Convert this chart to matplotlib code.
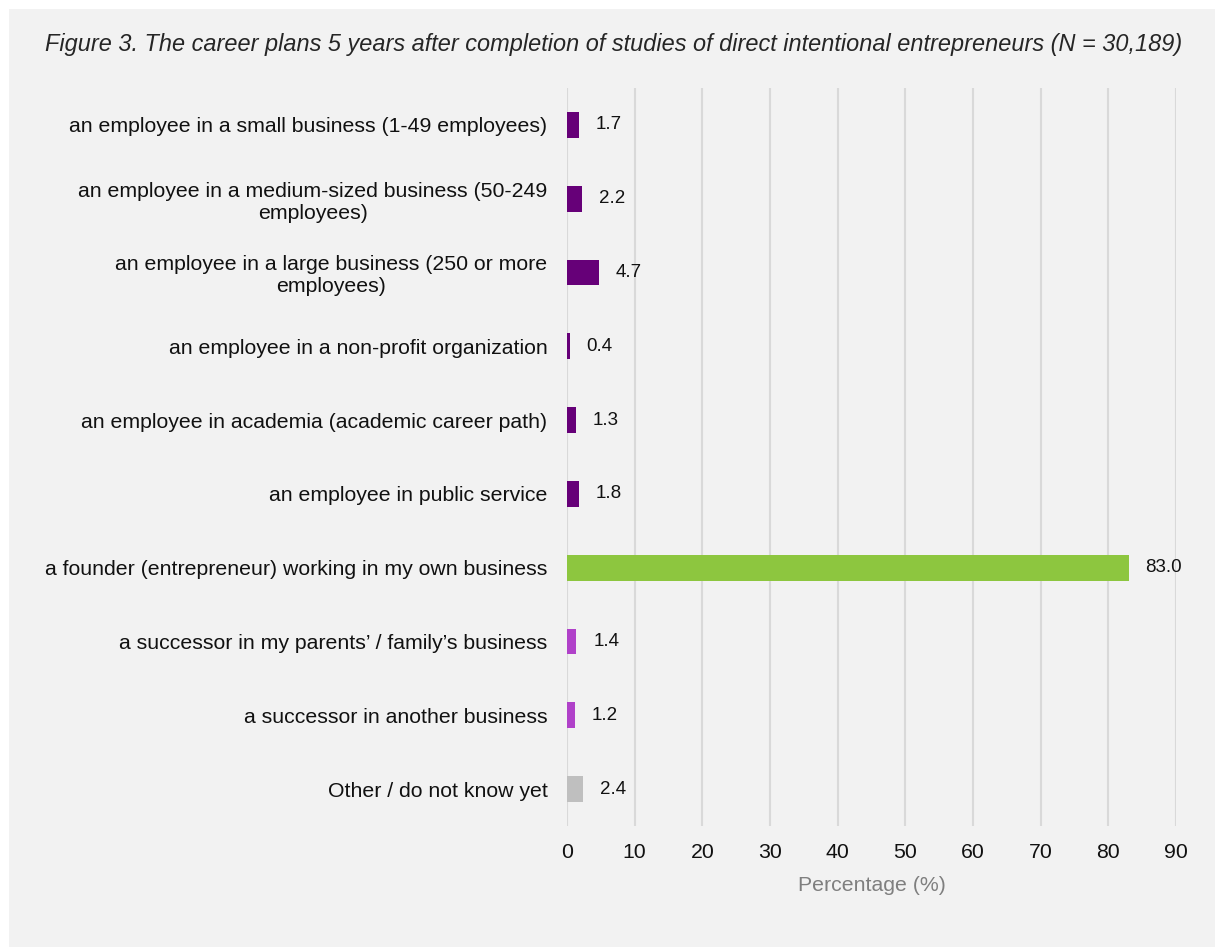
import numpy as np
import matplotlib.pyplot as plt
from matplotlib.patches import Rectangle

plt.rcParams['font.family'] = ['Liberation Sans', 'DejaVu Sans']

categories = [
    'an employee in a small business (1-49 employees)',
    'an employee in a medium-sized business (50-249\nemployees)',
    'an employee in a large business (250 or more\nemployees)',
    'an employee in a non-profit organization',
    'an employee in academia (academic career path)',
    'an employee in public service',
    'a founder (entrepreneur) working in my own business',
    'a successor in my parents\u2019 / family\u2019s business',
    'a successor in another business',
    'Other / do not know yet',
]
values = [1.7, 2.2, 4.7, 0.4, 1.3, 1.8, 83.0, 1.4, 1.2, 2.4]
groups = ['employee'] * 6 + ['founder'] + ['successor'] * 2 + ['other']
group_colors = {
    'employee': '#660078',
    'founder': '#8dc63f',
    'successor': '#b041c9',
    'other': '#bfbfbf',
}
xticks = np.arange(0, 100, 10)

bg = '#f2f2f2'
fig = plt.figure(figsize=(12.15, 9.47), dpi=100)
fig.patch.set_facecolor('white')
# light grey panel behind everything, leaving a thin white strip top and left
fig.patches.append(Rectangle((9 / 1215, 0), 1 - 9 / 1215, 1 - 9 / 947,
                             transform=fig.transFigure, facecolor=bg,
                             edgecolor='none', zorder=-10))

ax = fig.add_axes([567 / 1215, 1 - 826 / 947, (1176 - 567) / 1215, (826 - 88) / 947])
ax.set_facecolor(bg)

y = np.arange(len(categories))
colors = [group_colors[g] for g in groups]
ax.barh(y, values, height=0.35, color=colors, zorder=3)

for yi, v in zip(y, values):
    ax.annotate(f'{v:.1f}', xy=(v, yi), xytext=(12, 0), textcoords='offset points',
                ha='left', va='center', fontsize=13.5, color='#111111')

ax.set_xlim(0, 90)
ax.set_ylim(len(categories) - 0.5, -0.5)
ax.set_yticks(y)
ax.set_yticklabels(categories, fontsize=15.3, color='#111111',
                   multialignment='center', linespacing=1.2)
ax.set_xticks(xticks)
ax.set_xticklabels([str(t) for t in xticks], fontsize=15.3, color='#111111')
ax.tick_params(axis='both', length=0)
ax.tick_params(axis='y', pad=14)
ax.tick_params(axis='x', pad=12)
ax.grid(axis='x', color='#d9d9d9', linewidth=1.5, zorder=0)
for s in ax.spines.values():
    s.set_visible(False)

ax.set_xlabel('Percentage (%)', fontsize=15.3, color='#7f7f7f', labelpad=10)

fig.text(614 / 1215, 1 - 45 / 947,
         'Figure 3. The career plans 5 years after completion of studies of direct '
         'intentional entrepreneurs (N = 30,189)',
         ha='center', va='center', fontsize=16.9, style='italic', color='#262626')

fig.savefig('out.png', dpi=100, facecolor=fig.get_facecolor())
